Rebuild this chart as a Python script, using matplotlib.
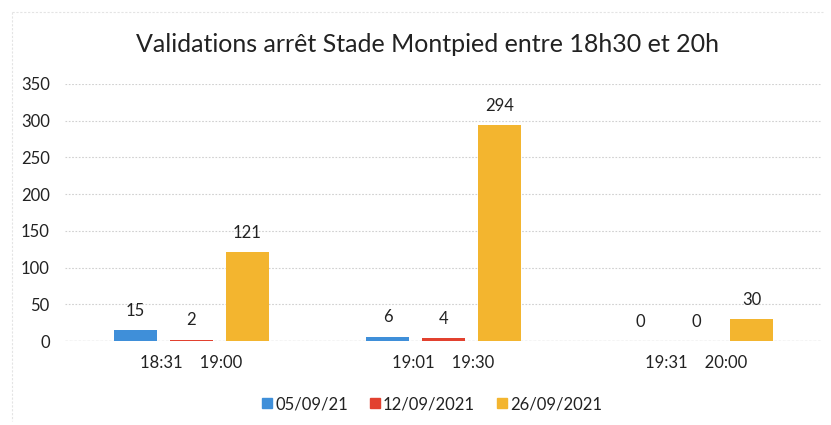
#!/usr/bin/env python3

import numpy as np
import matplotlib.pyplot as plt
from matplotlib.lines import Line2D

categories = ['18:31    19:00', '19:01    19:30', '19:31    20:00']
series = ['05/09/21', '12/09/2021', '26/09/2021']
val_0509 = [15, 6, 0]
val_1209 = [2, 4, 0]
val_2609 = [121, 294, 30]
colors = ['#3f8fd9', '#e2412f', '#f3b52f']
yticks = [0, 50, 100, 150, 200, 250, 300, 350]

plt.rcParams['font.family'] = ['Lato', 'DejaVu Sans']

fig = plt.figure(figsize=(8.31, 4.25), dpi=100)
ax = fig.add_axes([65 / 831, 84 / 425, 757 / 831, 257 / 425])

x = np.arange(len(categories))
width = 0.17
step = 0.222
for i, (vals, name) in enumerate(zip([val_0509, val_1209, val_2609], series)):
    pos = x + (i - 1) * step
    ax.bar(pos, vals, width, color=colors[i], label=name, zorder=3)
    for p, v in zip(pos, vals):
        ax.annotate(str(v), (p, v), xytext=(0, 8), textcoords='offset points',
                    ha='center', va='bottom', fontsize=12, color='#222222')

ax.set_xlim(-0.5, len(categories) - 0.5)
ax.set_ylim(0, 350)
ax.set_yticks(yticks)
ax.set_xticks(x)
ax.set_xticklabels(categories, fontsize=12, color='#222222')
ax.tick_params(axis='y', length=0, pad=11, labelsize=12, labelcolor='#222222')
ax.tick_params(axis='x', length=0, pad=10)
ax.grid(axis='y', linestyle=(0, (1.5, 1.5)), color='#d0d0d0', linewidth=0.8, zorder=0)
for s in ax.spines.values():
    s.set_visible(False)
ax.axhline(0, color='#bdbdbd', linestyle=(0, (2, 1.5)), linewidth=0.9, zorder=1)

fig.text(428 / 831, 1 - 45 / 425, 'Validations arrêt Stade Montpied entre 18h30 et 20h',
         ha='center', va='center', fontsize=18, color='#222222')

handles = [Line2D([], [], marker='s', linestyle='none', markersize=6.5,
                  markerfacecolor=c, markeredgecolor=c) for c in colors]
fig.legend(handles, series, loc='center', bbox_to_anchor=(432 / 831, 1 - 404 / 425),
           ncol=3, frameon=False, fontsize=12, handlelength=0.6, handletextpad=0.2,
           columnspacing=1.3, labelcolor='#222222')

# faint outer frame of the chart area
fig.add_artist(Line2D([12 / 831, 12 / 831], [1 - 12 / 425, 0.01], transform=fig.transFigure,
                      color='#e4e4e4', linewidth=0.8, linestyle=(0, (2, 1.5))))
fig.add_artist(Line2D([12 / 831, 0.99], [1 - 12 / 425, 1 - 12 / 425], transform=fig.transFigure,
                      color='#e4e4e4', linewidth=0.8, linestyle=(0, (2, 1.5))))

fig.savefig('out.png', dpi=100)
